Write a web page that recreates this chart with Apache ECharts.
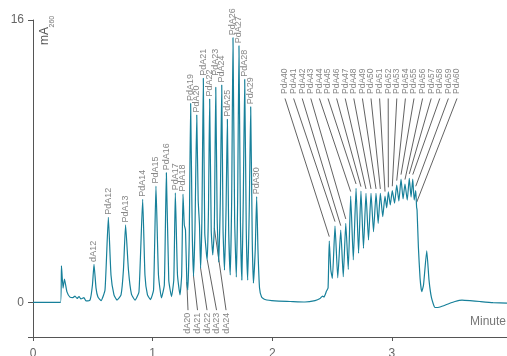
<!DOCTYPE html>
<html><head><meta charset="utf-8">
<script src="https://cdn.jsdelivr.net/npm/echarts@6/dist/echarts.min.js"></script>
<style>html,body{margin:0;padding:0;background:#fff}#c{width:507px;height:356px}</style>
</head><body><div id="c"></div>
<script>
// Chromatogram trace: retention time (minutes) and absorbance (mA260)
const traceT = [
  0, 0.230, 0.238, 0.251, 0.263, 0.284, 0.309, 0.334, 0.351, 0.368,
  0.385, 0.401, 0.426, 0.443, 0.477, 0.497, 0.510, 0.527, 0.543, 0.569,
  0.602, 0.630, 0.652, 0.677, 0.702, 0.736, 0.756, 0.774, 0.798, 0.823,
  0.853, 0.886, 0.917, 0.936, 0.957, 0.982, 1.008, 1.028, 1.049, 1.074,
  1.098, 1.115, 1.135, 1.158, 1.177, 1.190, 1.208, 1.229, 1.243, 1.254,
  1.265, 1.275, 1.286, 1.294, 1.306, 1.318, 1.331, 1.342, 1.354, 1.369,
  1.381, 1.392, 1.401, 1.412, 1.424, 1.436, 1.451, 1.457, 1.467, 1.477,
  1.490, 1.503, 1.516, 1.528, 1.540, 1.553, 1.566, 1.578, 1.589, 1.601,
  1.614, 1.625, 1.636, 1.649, 1.661, 1.672, 1.686, 1.700, 1.711, 1.722,
  1.734, 1.746, 1.758, 1.770, 1.783, 1.795, 1.808, 1.820, 1.833, 1.843,
  1.858, 1.870, 1.881, 1.894, 1.911, 1.940, 2.023, 2.149, 2.274, 2.358,
  2.400, 2.421, 2.433, 2.454, 2.467, 2.477, 2.490, 2.503, 2.525, 2.548,
  2.573, 2.594, 2.615, 2.636, 2.656, 2.678, 2.701, 2.722, 2.742, 2.763,
  2.784, 2.805, 2.826, 2.847, 2.868, 2.886, 2.904, 2.924, 2.943, 2.957,
  2.971, 2.987, 3.004, 3.023, 3.041, 3.059, 3.077, 3.094, 3.110, 3.129,
  3.146, 3.161, 3.175, 3.187, 3.200, 3.207, 3.211, 3.222, 3.236, 3.250,
  3.265, 3.292, 3.311, 3.332, 3.361, 3.403, 3.470, 3.528, 3.587, 3.654,
  3.737, 3.846, 3.963
];
const traceV = [
  0.02, 0.02, 2.08, 0.83, 1.34, 0.61, 0.32, 0.29, 0.38, 0.24,
  0.35, 0.21, 0.29, 0.10, 0.15, 1.00, 2.17, 0.83, 0.32, 0.12,
  0.72, 4.83, 1.57, 0.44, 0.15, 0.44, 1.85, 4.40, 1.85, 0.49,
  0.15, 0.61, 5.85, 1.57, 0.44, 0.18, 0.72, 6.60, 1.57, 0.27,
  1.00, 7.36, 1.28, 0.35, 1.28, 6.22, 1.57, 0.44, 1.57, 6.15,
  4.40, 4.11, 1.17, 0.72, 3.55, 11.28, 4.11, 1.51, 4.11, 10.62,
  5.81, 4.40, 1.96, 4.68, 12.70, 3.94, 2.70, 2.42, 5.25, 11.53,
  4.11, 2.70, 4.23, 12.19, 4.68, 2.30, 5.81, 12.32, 4.11, 1.85,
  5.25, 10.38, 4.11, 1.57, 5.81, 15.00, 4.68, 1.45, 5.81, 14.54,
  4.68, 1.28, 5.81, 12.64, 4.11, 1.28, 5.25, 11.09, 3.55, 1.11,
  2.98, 6.00, 2.98, 0.83, 0.32, 0.18, 0.10, 0.07, 0.04, 0.12,
  0.24, 0.38, 0.32, 0.66, 0.83, 3.49, 1.85, 1.38, 4.34, 1.41,
  4.11, 1.47, 4.49, 1.89, 6.04, 2.42, 6.47, 2.80, 6.32, 3.08,
  6.19, 3.55, 6.19, 4.02, 6.19, 4.49, 6.19, 4.87, 6.04, 5.36,
  6.28, 5.53, 6.34, 5.64, 6.66, 5.76, 7.00, 5.87, 6.72, 5.81,
  7.04, 5.98, 7.00, 5.81, 6.34, 5.42, 5.25, 3.17, 1.40, 0.62,
  1.00, 2.94, 1.28, 0.27, -0.27, -0.24, -0.07, 0.07, 0.15, 0.12,
  0.07, 0.01, -0.02
];

const xTicks = [0, 1, 2, 3];
const yTicks = [0, 16];

// Peak labels written just above their peaks (index into the trace)
const upperNames = ['dA12','PdA12','PdA13','PdA14','PdA15','PdA16','PdA17','PdA18','PdA19','PdA20',
                    'PdA21','PdA22','PdA23','PdA24','PdA25','PdA26','PdA27','PdA28','PdA29','PdA30'];
const upperIdx = [16, 21, 27, 32, 37, 41, 45, 49, 55, 59, 64, 69, 73, 77, 81, 85, 89, 93, 97, 101];

// Peak labels fanned out at the top with leader lines
const topNames = ['PdA40','PdA41','PdA42','PdA43','PdA44','PdA45','PdA46','PdA47','PdA48','PdA49','PdA50',
                  'PdA51','PdA52','PdA53','PdA54','PdA55','PdA56','PdA57','PdA58','PdA59','PdA60'];
const topIdx = [115, 118, 120, 122, 124, 126, 128, 130, 132, 134, 136, 138, 140, 142, 144, 146, 148, 150, 152, 154, 155];

// Peak labels fanned out below the baseline with leader lines
const lowNames = ['dA20','dA21','dA22','dA23','dA24'];
const lowIdx = [52, 57, 62, 67, 72];

// annotation fan layout (axis units)
const topFan = {t0: 2.107, t1: 3.545, v: 11.56};
const lowFan = {t0: 1.296, t1: 1.614, v: -0.42};

const FONT = '"Liberation Sans", Arial, sans-serif';
const TEAL = '#17809a';
const fanT = (f, i, n) => f.t0 + (f.t1 - f.t0) * i / (n - 1);

const trace = traceT.map((t, i) => [t, traceV[i]]);

const labelBase = {show: true, formatter: '{b}', rotate: 90, verticalAlign: 'middle',
                   fontSize: 9, color: '#666', fontFamily: FONT};

const chart = echarts.init(document.getElementById('c'), null, {renderer: 'canvas'});
chart.setOption({
  animation: false,
  backgroundColor: '#fff',
  grid: {left: 33, right: 0, top: 20, bottom: 19, containLabel: false, outerBoundsMode: 'none'},
  xAxis: {
    type: 'value', min: 0, max: 3.963,
    axisLine: {show: true, onZero: false, lineStyle: {color: '#555', width: 1}},
    axisTick: {show: true, customValues: xTicks, length: 4, lineStyle: {color: '#555'}},
    axisLabel: {customValues: xTicks, margin: 11, fontSize: 12, color: '#666', fontFamily: FONT},
    splitLine: {show: false}
  },
  yAxis: {
    type: 'value', min: -1.94, max: 16,
    axisLine: {show: true, lineStyle: {color: '#555', width: 1}},
    axisTick: {show: true, customValues: [-1.94].concat(yTicks), length: 5, lineStyle: {color: '#555'}},
    axisLabel: {customValues: yTicks, margin: 9, fontSize: 12, color: '#666', fontFamily: FONT},
    splitLine: {show: false}
  },
  graphic: [
    {type: 'text', x: 51, y: 45, rotation: Math.PI / 2,
     style: {text: 'mA', fill: '#555', font: '12px ' + FONT, align: 'left', verticalAlign: 'bottom'}},
    {type: 'text', x: 55.5, y: 27.5, rotation: Math.PI / 2,
     style: {text: '260', fill: '#777', font: '7px ' + FONT, align: 'left', verticalAlign: 'bottom'}},
    {type: 'text', right: 1, top: 316,
     style: {text: 'Minute', fill: '#777', font: '12px ' + FONT}}
  ],
  series: [
    {type: 'line', data: trace, symbol: 'none', showSymbol: false, smooth: 0.15, silent: true, z: 3,
     lineStyle: {color: TEAL, width: 1.2}},
    {type: 'scatter', silent: true, symbolSize: 1, itemStyle: {color: 'rgba(0,0,0,0)'},
     data: upperIdx.map((k, i) => ({name: upperNames[i], value: [traceT[k], traceV[k]],
        label: upperNames[i] === 'PdA23' ? {distance: 11} : undefined})),
     label: Object.assign({}, labelBase, {position: 'top', distance: 2, align: 'left'})},
    {type: 'lines', coordinateSystem: 'cartesian2d', silent: true, z: 2,
     lineStyle: {color: '#3a3a3a', width: 0.8, opacity: 1, curveness: 0},
     data: topIdx.map((k, i) => ({coords: [[fanT(topFan, i, topIdx.length), topFan.v], [traceT[k], traceV[k] + 0.25]]}))},
    {type: 'scatter', silent: true, symbolSize: 1, itemStyle: {color: 'rgba(0,0,0,0)'},
     data: topIdx.map((k, i) => ({name: topNames[i], value: [fanT(topFan, i, topIdx.length), topFan.v]})),
     label: Object.assign({}, labelBase, {position: 'top', distance: 4, align: 'left', fontSize: 8.5})},
    {type: 'lines', coordinateSystem: 'cartesian2d', silent: true, z: 2,
     lineStyle: {color: '#3a3a3a', width: 0.8, opacity: 1, curveness: 0},
     data: lowIdx.map((k, i) => ({coords: [[fanT(lowFan, i, lowIdx.length), lowFan.v], [traceT[k], traceV[k]]]}))},
    {type: 'scatter', silent: true, symbolSize: 1, itemStyle: {color: 'rgba(0,0,0,0)'},
     data: lowIdx.map((k, i) => ({name: lowNames[i], value: [fanT(lowFan, i, lowIdx.length), lowFan.v]})),
     label: Object.assign({}, labelBase, {position: 'bottom', distance: 2, align: 'right'})}
  ]
});
</script></body></html>
